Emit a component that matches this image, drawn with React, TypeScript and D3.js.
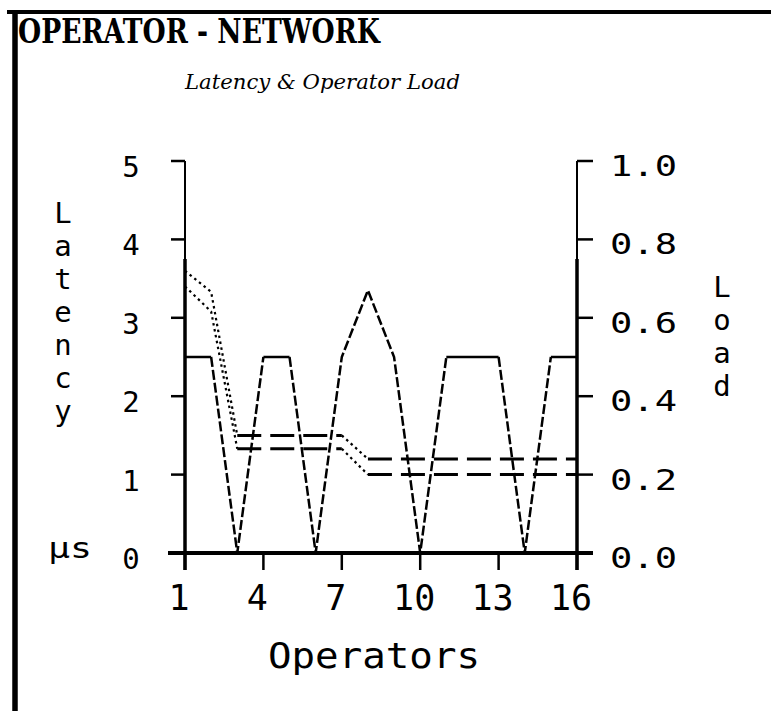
import React from "react";
import * as d3 from "d3";

// ---- data ----
const operators = [1, 2, 3, 4, 5, 6, 7, 8, 9, 10, 11, 12, 13, 14, 15, 16];
// operator load (right axis, 0..1)
const loadSeries = [0.5, 0.5, 0, 0.5, 0.5, 0, 0.5, 0.67, 0.5, 0, 0.5, 0.5, 0.5, 0, 0.5, 0.5];
// latency (left axis, µs)
const latencyHigh = [3.6, 3.33, 1.5, 1.5, 1.5, 1.5, 1.5, 1.2, 1.2, 1.2, 1.2, 1.2, 1.2, 1.2, 1.2, 1.2];
const latencyLow = [3.4, 3.08, 1.33, 1.33, 1.33, 1.33, 1.33, 1.0, 1.0, 1.0, 1.0, 1.0, 1.0, 1.0, 1.0, 1.0];
const xTicks = [1, 4, 7, 10, 13, 16];
const latencyTicks = [0, 1, 2, 3, 4, 5];
const loadTicks = [0, 0.2, 0.4, 0.6, 0.8, 1.0];

const W = 771;
const H = 711;
const MONO = "'DejaVu Sans Mono', monospace";

type Pt = [number, number];

function runs(points: Pt[]) {
  // split polyline into runs of flat vs sloped segments
  const out: { flat: boolean; pts: Pt[] }[] = [];
  for (let i = 1; i < points.length; i++) {
    const flat = Math.abs(points[i][1] - points[i - 1][1]) < 0.5;
    const last = out[out.length - 1];
    if (last && last.flat === flat) last.pts.push(points[i]);
    else out.push({ flat, pts: [points[i - 1], points[i]] });
  }
  return out;
}

export default function App() {
  const x = d3.scaleLinear().domain([1, 16]).range([185, 577]);
  const yL = d3.scaleLinear().domain([0, 5]).range([553, 161]);
  const yR = d3.scaleLinear().domain([0, 1]).range([553, 161]);
  const line = d3.line<Pt>().x((d) => d[0]).y((d) => d[1]);

  const loadPts: Pt[] = operators.map((o, i) => [x(o), yR(loadSeries[i])]);
  const highPts: Pt[] = operators.map((o, i) => [x(o), yL(latencyHigh[i])]);
  const lowPts: Pt[] = operators.map((o, i) => [x(o), yL(latencyLow[i])]);

  const x0 = x(1);
  const x1 = x(16);
  const yBase = yL(0);
  const yTop = yL(5);
  const yHeavy = yL(3.75);

  const latLetters = "Latency".split("");
  const loadLetters = "Load".split("");

  return (
    <svg
      width={W}
      height={H}
      style={{ position: "absolute", left: 0, top: 0, background: "#fff" }}
    >
      <rect x={0} y={0} width={W} height={H} fill="#fff" />
      {/* frame */}
      <line x1={7} y1={12} x2={W} y2={12} stroke="#000" strokeWidth={4} />
      <line x1={15} y1={10} x2={15} y2={H} stroke="#000" strokeWidth={5.5} />

      {/* titles */}
      <text
        x={18}
        y={43}
        fontFamily="'DejaVu Serif', serif"
        fontWeight="bold"
        fontSize={33}
        textLength={362}
        lengthAdjust="spacingAndGlyphs"
      >
        OPERATOR - NETWORK
      </text>
      <text
        x={185}
        y={89}
        fontFamily="'DejaVu Serif', serif"
        fontStyle="italic"
        fontSize={21}
        textLength={275}
        lengthAdjust="spacingAndGlyphs"
      >
        Latency &amp; Operator Load
      </text>

      {/* axes */}
      <line x1={x0} y1={yTop} x2={x0} y2={yHeavy} stroke="#000" strokeWidth={2} />
      <line x1={x0} y1={yHeavy} x2={x0} y2={yBase + 17} stroke="#000" strokeWidth={3.5} />
      <line x1={x1} y1={yTop} x2={x1} y2={yHeavy} stroke="#000" strokeWidth={2} />
      <line x1={x1} y1={yHeavy} x2={x1} y2={yBase + 17} stroke="#000" strokeWidth={3.5} />
      <line x1={x0 - 17} y1={yBase} x2={x1 + 16} y2={yBase} stroke="#000" strokeWidth={4} />

      {latencyTicks.map((t) => (
        <g key={"l" + t}>
          <line x1={x0 - 14} y1={yL(t)} x2={x0} y2={yL(t)} stroke="#000" strokeWidth={2.5} />
          <text
            x={131}
            y={yL(t) + 16}
            textAnchor="middle"
            fontFamily={MONO}
            fontSize={29}
          >
            {String(t)}
          </text>
        </g>
      ))}
      {loadTicks.map((t) => (
        <g key={"r" + t}>
          <line x1={x1} y1={yR(t)} x2={x1 + 16} y2={yR(t)} stroke="#000" strokeWidth={2.5} />
          <text
            x={610}
            y={yR(t) + 15}
            fontFamily={MONO}
            fontSize={29}
            textLength={67}
            lengthAdjust="spacingAndGlyphs"
          >
            {t.toFixed(1)}
          </text>
        </g>
      ))}
      {xTicks.map((t) => (
        <g key={"x" + t}>
          <line x1={x(t)} y1={yBase} x2={x(t)} y2={yBase + 17} stroke="#000" strokeWidth={2.5} />
          <text
            x={x(t) - 6}
            y={610}
            textAnchor="middle"
            fontFamily={MONO}
            fontSize={35}
          >
            {String(t)}
          </text>
        </g>
      ))}

      {/* axis titles */}
      {latLetters.map((c, i) => (
        <text key={"lat" + i} x={63} y={223 + i * 33} textAnchor="middle" fontFamily={MONO} fontSize={29}>
          {c}
        </text>
      ))}
      {loadLetters.map((c, i) => (
        <text key={"ld" + i} x={722} y={297 + i * 33} textAnchor="middle" fontFamily={MONO} fontSize={29}>
          {c}
        </text>
      ))}
      <text x={48} y={558} fontFamily={MONO} fontSize={29} textLength={44} lengthAdjust="spacingAndGlyphs">
        µs
      </text>
      <text x={268} y={668} fontFamily={MONO} fontSize={35} textLength={212} lengthAdjust="spacingAndGlyphs">
        Operators
      </text>

      {/* series */}
      {runs(loadPts).map((r, i) => (
        <path
          key={"a" + i}
          d={line(r.pts) || ""}
          fill="none"
          stroke="#000"
          strokeWidth={2.5}
          strokeDasharray={r.flat ? undefined : "10,3"}
        />
      ))}
      {[highPts, lowPts].map((pts, s) =>
        runs(pts).map((r, i) => (
          <path
            key={"b" + s + "-" + i}
            d={line(r.pts) || ""}
            fill="none"
            stroke="#000"
            strokeWidth={r.flat ? 3 : 2.2}
            strokeDasharray={r.flat ? "24,9" : "2.5,3.5"}
          />
        ))
      )}
    </svg>
  );
}
